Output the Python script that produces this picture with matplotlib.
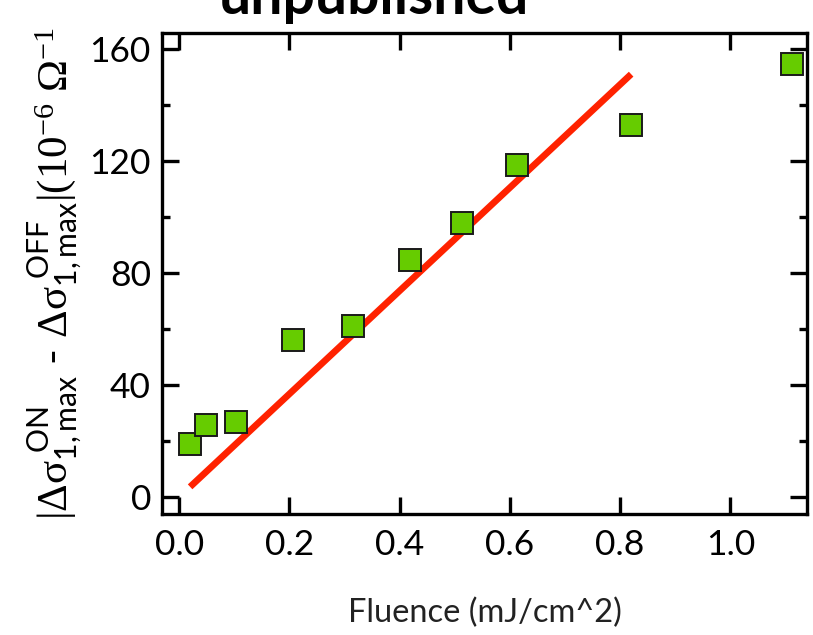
import matplotlib
matplotlib.use("Agg")
import matplotlib.pyplot as plt
from matplotlib.ticker import MultipleLocator

# Data
fluence = [0.020, 0.049, 0.103, 0.207, 0.316, 0.419, 0.513, 0.613, 0.820, 1.111]
delta_sigma = [18.9, 25.7, 26.9, 56.1, 61.2, 84.8, 98.0, 118.5, 132.9, 154.8]
fit_x = [0.02, 0.82]
fit_y = [3.7, 151.0]

plt.rcParams['font.family'] = ['Lato', 'DejaVu Sans']
plt.rcParams['mathtext.fontset'] = 'custom'
plt.rcParams['mathtext.rm'] = 'Liberation Serif'
plt.rcParams['mathtext.it'] = 'Liberation Serif'
plt.rcParams['mathtext.sf'] = 'Lato'

fig = plt.figure(figsize=(8.13, 6.35), dpi=100)
ax = fig.add_axes([162/813, (635-514)/635, 645/813, 481/635])

ax.plot(fit_x, fit_y, color='#ff2200', lw=4.8, solid_capstyle='butt', zorder=2)
ax.plot(fluence, delta_sigma, ls='none', marker='s', ms=16.5, mfc='#66cc00',
        mec='#1a1a1a', mew=1.4, zorder=3)

ax.set_xlim(-0.031, 1.139)
ax.set_ylim(-6, 165.7)
ax.xaxis.set_major_locator(MultipleLocator(0.2))
ax.yaxis.set_major_locator(MultipleLocator(40))
ax.yaxis.set_minor_locator(MultipleLocator(20))
ax.xaxis.set_major_formatter(matplotlib.ticker.FormatStrFormatter('%.1f'))

ax.tick_params(which='both', direction='in', top=True, right=True, width=2.4,
               colors='black')
ax.tick_params(axis='both', labelsize=25.5)
ax.tick_params(which='major', length=12)
ax.tick_params(axis='x', which='major', pad=11)
ax.tick_params(axis='y', which='major', pad=8)
ax.tick_params(which='minor', length=6)
for s in ax.spines.values():
    s.set_linewidth(2.4)

ax.set_xlabel('Fluence (mJ/cm^2)', fontsize=23.5, color='#222222', labelpad=26)
ylab = (r'$|\Delta\mathrm{\sigma}_{\mathsf{1,max}}^{\ \mathsf{ON}}$ - '
        r'$\Delta\mathrm{\sigma}_{\mathsf{1,max}}^{\ \mathsf{OFF}}|(10^{-6}\ \Omega^{-1}$')
ax.set_ylabel(ylab, fontsize=31, labelpad=4)

fig.text(374/813, 1 - 14/635, 'unpublished', fontsize=41, fontweight='bold',
         ha='center', va='baseline')

fig.savefig('out.png', dpi=100)
